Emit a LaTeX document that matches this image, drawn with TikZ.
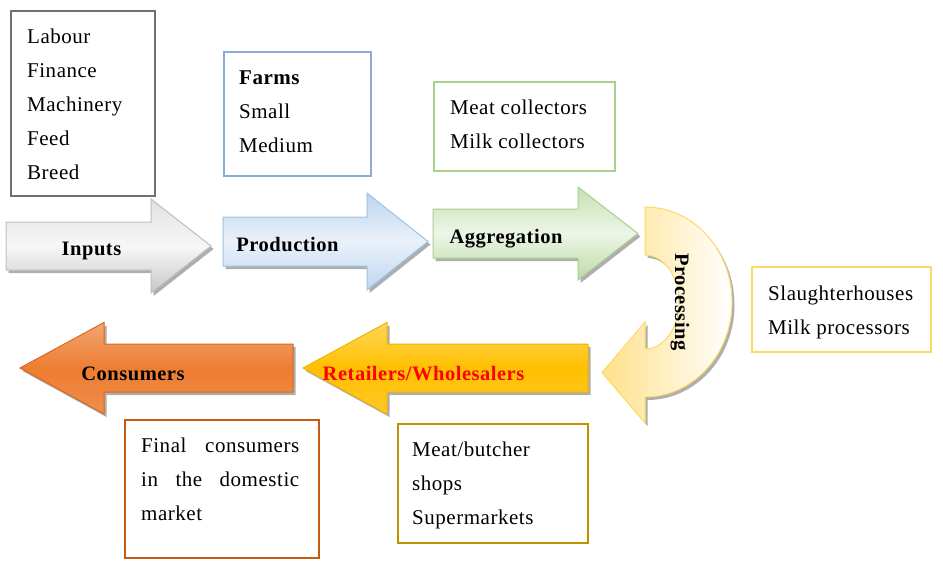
\documentclass[tikz,border=0pt]{standalone}
\usepackage{fontspec}
\setmainfont[LetterSpace=2.5]{Liberation Serif}
\usetikzlibrary{shadows}
\definecolor{boxgray}{HTML}{707070}
\definecolor{boxblue}{HTML}{8EAADB}
\definecolor{boxgreen}{HTML}{A9D18E}
\definecolor{boxyellow}{HTML}{FFD966}
\definecolor{boxorange}{HTML}{C55A11}
\definecolor{boxgold}{HTML}{BF9000}
\definecolor{bluetop}{HTML}{BCD5EE}
\definecolor{bluemid}{HTML}{EAF1FA}
\definecolor{bluebot}{HTML}{BFD6EF}
\definecolor{blueline}{HTML}{9DC3E6}
\definecolor{greentop}{HTML}{C5E0B4}
\definecolor{greenmid}{HTML}{EDF5E7}
\definecolor{greenbot}{HTML}{BCDBA6}
\definecolor{orgtop}{HTML}{F2A673}
\definecolor{orgmid}{HTML}{ED7D31}
\definecolor{orgbot}{HTML}{EF8E4C}
\definecolor{orgline}{HTML}{D86A1F}
\definecolor{goldtop}{HTML}{FFD75A}
\definecolor{goldmid}{HTML}{FFC000}
\definecolor{goldbot}{HTML}{FFC928}
\definecolor{goldline}{HTML}{F0B400}
\definecolor{proctop}{HTML}{FFE08A}
\begin{document}
\begin{tikzpicture}[x=1pt,y=-1pt,
  txt/.style={anchor=base west, inner sep=0pt, font=\fontsize{21}{25}\selectfont},
  lbl/.style={anchor=base, inner sep=0pt, font=\fontsize{20.5}{24}\selectfont\bfseries},
  listbox/.style={draw, line width=1.6pt, anchor=north west, inner sep=0pt, fill=white},
  shadowed/.style={drop shadow={shadow xshift=2.5pt, shadow yshift=-3pt, opacity=0.45, fill=black!70}},
  arrowgray/.style={shadowed, draw=black!25, line width=1pt, top color=black!12, bottom color=black!22, middle color=black!3},
  arrowblue/.style={shadowed, draw=blueline, line width=1pt, top color=bluetop, bottom color=bluebot, middle color=bluemid},
  arrowgreen/.style={shadowed, draw=boxgreen, line width=1pt, top color=greentop, bottom color=greenbot, middle color=greenmid},
  arroworange/.style={shadowed, draw=orgline, line width=1pt, top color=orgtop, bottom color=orgbot, middle color=orgmid},
  arrowgold/.style={shadowed, draw=goldline, line width=1pt, top color=goldtop, bottom color=goldbot, middle color=goldmid},
  arrowproc/.style={shadowed, draw=boxyellow, line width=1pt, left color=proctop, right color=white},
]
\useasboundingbox (0,0) rectangle (943,566);
\fill[white] (0,0) rectangle (943,566);

% ---- top boxes ----
\node[listbox, draw=boxgray, line width=2pt, minimum width=144pt, minimum height=185pt] (inbox) at (10,10) {};
\node[txt] (t1) at (27,43.5) {Labour};
\node[txt] (t2) at (27,77.5) {Finance};
\node[txt] (t3) at (27,111.5) {Machinery};
\node[txt] (t4) at (27,145.5) {Feed};
\node[txt] (t5) at (27,179.5) {Breed};

\node[listbox, draw=boxblue, minimum width=147pt, minimum height=124pt] (farmbox) at (223,51) {};
\node[txt] (f1) at (239,84) {\bfseries Farms};
\node[txt] (f2) at (239,118) {Small};
\node[txt] (f3) at (239,152.5) {Medium};

\node[listbox, draw=boxgreen, minimum width=181pt, minimum height=89pt] (collbox) at (433,81) {};
\node[txt] (c1) at (450,114) {Meat collectors};
\node[txt] (c2) at (450,148) {Milk collectors};

\node[listbox, draw=boxyellow, minimum width=179pt, minimum height=85pt] (procbox) at (751,266) {};
\node[txt] (p1) at (768,300) {Slaughterhouses};
\node[txt] (p2) at (768,334) {Milk processors};

% ---- arrows ----
\path[arrowgray] (6,222) -- (151,222) -- (151,199) -- (211,246) -- (151,293) -- (151,270) -- (6,270) -- cycle;
\node[lbl] (inputs) at (91.5,255) {Inputs};

\path[arrowblue] (223,217) -- (367,217) -- (367,193) -- (428,241.5) -- (367,290) -- (367,266) -- (223,266) -- cycle;
\node[lbl] (production) at (287.5,251) {Production};

\path[arrowgreen] (433,209) -- (578,209) -- (578,187) -- (638,233.5) -- (578,280) -- (578,258) -- (433,258) -- cycle;
\node[lbl] (aggregation) at (506,243) {Aggregation};

\path[arrowproc] (645,207) arc[start angle=-90, end angle=90, x radius=87, y radius=95]
  -- (645,423) -- (602,372.5) -- (645,322) -- (645,349)
  arc[start angle=90, end angle=-90, x radius=34, y radius=47] -- cycle;
\node[inner sep=0pt, rotate=-90, font=\fontsize{20.5}{24}\selectfont\bfseries] (processing) at (680,302) {Processing};

\path[arrowgold] (588,344) -- (387,344) -- (387,322.5) -- (303,368) -- (387,414) -- (387,392) -- (588,392) -- cycle;
\node[lbl, text=red] (retail) at (423.5,380) {Retailers/Wholesalers};

\path[arroworange] (293,344) -- (104,344) -- (104,322.5) -- (20,368) -- (104,414) -- (104,392) -- (293,392) -- cycle;
\node[lbl] (consumers) at (133,380) {Consumers};

% ---- bottom boxes ----
\node[listbox, draw=boxorange, minimum width=194pt, minimum height=138pt] (consbox) at (124,419) {};
\node[txt] (fc1) at (141,452) {\makebox[158pt][l]{Final\hfill consumers}};
\node[txt] (fc2) at (141,486) {\makebox[158pt][l]{in\hfill the\hfill domestic}};
\node[txt] (fc3) at (141,520) {market};

\node[listbox, draw=boxgold, minimum width=190pt, minimum height=119pt] (shopbox) at (397,423) {};
\node[txt] (s1) at (412,456) {Meat/butcher};
\node[txt] (s2) at (412,490) {shops};
\node[txt] (s3) at (412,524) {Supermarkets};
\end{tikzpicture}
\end{document}
